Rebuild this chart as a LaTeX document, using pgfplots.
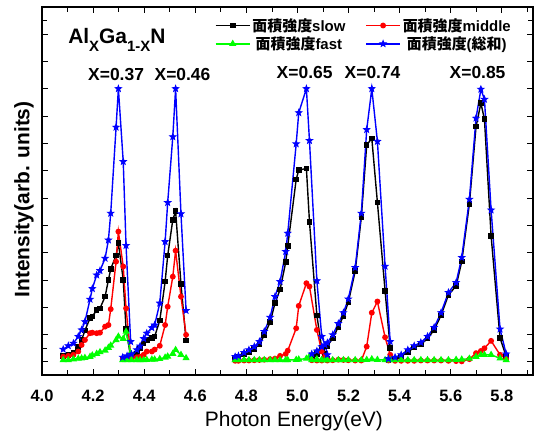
\documentclass[border=0pt]{standalone}
\usepackage{fontspec}
\setmainfont{Liberation Sans}
\newfontfamily\cjk{Noto Sans CJK JP}
\usepackage{pgfplots}
\pgfplotsset{compat=1.18}
\newcommand\mk{{\cjk\bfseries 面積強度}}
\pgfdeclareplotmark{fstar}{%
  \pgfpathmoveto{\pgfpointpolar{90}{\pgfplotmarksize}}%
  \pgfpathlineto{\pgfpointpolar{126}{0.42\pgfplotmarksize}}%
  \pgfpathlineto{\pgfpointpolar{162}{\pgfplotmarksize}}%
  \pgfpathlineto{\pgfpointpolar{198}{0.42\pgfplotmarksize}}%
  \pgfpathlineto{\pgfpointpolar{234}{\pgfplotmarksize}}%
  \pgfpathlineto{\pgfpointpolar{270}{0.42\pgfplotmarksize}}%
  \pgfpathlineto{\pgfpointpolar{306}{\pgfplotmarksize}}%
  \pgfpathlineto{\pgfpointpolar{342}{0.42\pgfplotmarksize}}%
  \pgfpathlineto{\pgfpointpolar{18}{\pgfplotmarksize}}%
  \pgfpathlineto{\pgfpointpolar{54}{0.42\pgfplotmarksize}}%
  \pgfpathclose
  \pgfusepathqfillstroke}
\begin{document}
\begin{tikzpicture}
\begin{axis}[
  scale only axis, width=491bp, height=368bp,
  at={(0,0)}, anchor=south west,
  xmin=4.0, xmax=5.922, ymin=-0.48, ymax=12.99,
  axis line style={line width=1.1bp},
  tick align=inside,
  tick style={line width=0.8bp, black},
  major tick length=6bp, minor tick length=5bp,
  xtick={4.0,4.2,4.4,4.6,4.8,5.0,5.2,5.4,5.6,5.8},
  minor xtick={4.1,4.3,4.5,4.7,4.9,5.1,5.3,5.5,5.7,5.9},
  ytick={0,1,2,3,4,5,6,7,8,9,10,11,12},
  minor ytick={0.5,12.5},
  yticklabels={},
  xticklabel style={yshift=-12bp, font=\bfseries\fontsize{16.5}{16.5}\selectfont, /pgf/number format/.cd, fixed, fixed zerofill, precision=1, assume math mode=true},
  xlabel={Photon Energy(eV)},
  ylabel={\bfseries Intensity(arb. units)},
  every axis x label/.style={at={(axis description cs:0.513,-0.1413)}, anchor=base, font=\fontsize{21}{21}\selectfont},
  every axis y label/.style={at={(axis description cs:-0.0367,0.477)}, anchor=center, rotate=90, font=\fontsize{21}{21}\selectfont},
  unbounded coords=jump,
  legend columns=2,
  legend style={at={(axis description cs:0.352,0.975)}, anchor=north west, draw=none, fill=none,
    font=\bfseries\fontsize{15}{17}\selectfont, inner sep=0pt,
    /tikz/every even column/.append style={column sep=18bp}},
  legend image code/.code={\draw[mark repeat=2,mark phase=2] plot coordinates {(0bp,0bp)(17bp,0bp)(34bp,0bp)};},
]
\addplot[black, line width=1.4bp, mark=square*, mark size=2.1bp, mark options={solid}] coordinates {
(4.083,0.22)(4.103,0.26)(4.123,0.34)(4.142,0.54)(4.155,0.80)(4.168,1.15)(4.188,1.60)(4.197,1.66)(4.214,1.90)(4.227,1.96)(4.247,2.39)(4.260,3.00)(4.269,3.40)(4.290,3.90)(4.299,4.35)(4.318,3.00)(4.329,1.20)(4.347,0.17)
(4.35,nan)
(4.316,0.12)(4.333,0.15)(4.350,0.20)(4.371,0.29)(4.384,0.50)(4.398,0.68)(4.410,0.80)(4.430,0.87)(4.441,0.93)(4.461,1.51)(4.482,2.94)(4.492,3.89)(4.512,5.20)(4.523,5.52)(4.544,2.85)(4.564,0.78)
(4.6,nan)
(4.756,0.14)(4.769,0.17)(4.791,0.28)(4.810,0.37)(4.831,0.48)(4.851,0.64)(4.870,0.98)(4.893,1.45)(4.912,2.15)(4.932,2.65)(4.954,3.65)(4.962,4.25)(4.995,6.68)(5.005,7.02)(5.035,7.08)(5.047,5.13)(5.076,1.70)(5.095,0.50)(5.108,0.30)(5.117,0.10)
(5.12,nan)
(5.056,0.18)(5.076,0.28)(5.095,0.42)(5.117,0.58)(5.138,0.86)(5.160,1.28)(5.180,1.68)(5.199,2.18)(5.226,3.32)(5.250,5.30)(5.271,7.94)(5.291,8.18)(5.313,5.83)(5.343,2.60)(5.363,0.50)
(5.365,nan)
(5.356,0.06)(5.382,0.12)(5.406,0.20)(5.432,0.37)(5.457,0.52)(5.483,0.64)(5.509,0.85)(5.535,1.17)(5.562,1.70)(5.591,2.45)(5.621,2.78)(5.643,3.67)(5.673,5.78)(5.699,8.61)(5.718,9.47)(5.732,8.88)(5.758,4.61)(5.793,0.87)(5.817,0.20)
};
\addlegendentry{\mk slow}
\addplot[red, line width=1.4bp, mark=*, mark size=2.2bp, mark options={solid}] coordinates {
(4.083,0.19)(4.103,0.22)(4.123,0.26)(4.142,0.38)(4.155,0.62)(4.168,0.80)(4.188,1.05)(4.197,1.07)(4.214,1.05)(4.227,1.07)(4.247,1.29)(4.260,1.35)(4.269,1.93)(4.290,3.67)(4.299,4.77)(4.318,3.49)(4.329,1.96)(4.347,0.26)
(4.35,nan)
(4.316,0.10)(4.333,0.12)(4.350,0.15)(4.371,0.17)(4.384,0.19)(4.398,0.26)(4.410,0.38)(4.430,0.38)(4.441,0.45)(4.461,0.59)(4.482,1.35)(4.492,2.02)(4.512,3.12)(4.523,4.07)(4.544,2.39)(4.564,0.99)
(4.6,nan)
(4.756,0.04)(4.769,0.04)(4.791,0.05)(4.810,0.05)(4.831,0.06)(4.851,0.07)(4.870,0.08)(4.893,0.10)(4.912,0.12)(4.932,0.22)(4.954,0.29)(4.962,0.41)(4.995,1.23)(5.005,2.05)(5.035,2.88)(5.047,2.76)(5.076,1.17)(5.095,0.38)(5.108,0.20)(5.117,0.08)
(5.12,nan)
(5.056,0.06)(5.076,0.05)(5.095,0.05)(5.117,0.05)(5.138,0.06)(5.160,0.08)(5.180,0.07)(5.199,0.06)(5.226,0.05)(5.250,0.05)(5.271,0.56)(5.291,1.80)(5.313,2.21)(5.343,0.90)(5.363,0.26)
(5.365,nan)
(5.356,0.05)(5.382,0.04)(5.406,0.04)(5.432,0.04)(5.457,0.04)(5.483,0.05)(5.509,0.05)(5.535,0.05)(5.562,0.05)(5.591,0.04)(5.621,0.03)(5.643,0.02)(5.673,0.10)(5.699,0.32)(5.718,0.40)(5.732,0.50)(5.758,0.77)(5.793,0.26)(5.817,0.11)
};
\addlegendentry{\mk middle}
\addplot[green, line width=1.4bp, mark=triangle*, mark size=2.8bp, mark options={solid}] coordinates {
(4.083,0.07)(4.103,0.07)(4.123,0.10)(4.142,0.12)(4.155,0.13)(4.168,0.15)(4.188,0.19)(4.197,0.24)(4.214,0.30)(4.227,0.36)(4.247,0.42)(4.260,0.52)(4.269,0.60)(4.290,0.80)(4.299,0.93)(4.318,0.85)(4.329,1.11)(4.347,0.32)
(4.35,nan)
(4.316,0.07)(4.333,0.07)(4.350,0.07)(4.371,0.07)(4.384,0.07)(4.398,0.07)(4.410,0.08)(4.430,0.09)(4.441,0.09)(4.461,0.11)(4.482,0.16)(4.492,0.20)(4.512,0.30)(4.523,0.44)(4.544,0.26)(4.564,0.14)
(4.6,nan)
(4.756,0.07)(4.769,0.07)(4.791,0.07)(4.810,0.07)(4.831,0.07)(4.851,0.07)(4.870,0.07)(4.893,0.07)(4.912,0.07)(4.932,0.07)(4.954,0.07)(4.962,0.07)(4.995,0.08)(5.005,0.09)(5.035,0.12)(5.047,0.20)(5.076,0.10)(5.095,0.07)(5.108,0.07)(5.117,0.07)
(5.12,nan)
(5.056,0.07)(5.076,0.07)(5.095,0.07)(5.117,0.07)(5.138,0.07)(5.160,0.07)(5.180,0.07)(5.199,0.07)(5.226,0.07)(5.250,0.07)(5.271,0.08)(5.291,0.10)(5.313,0.08)(5.343,0.07)(5.363,0.07)
(5.365,nan)
(5.356,0.07)(5.382,0.07)(5.406,0.07)(5.432,0.07)(5.457,0.07)(5.483,0.07)(5.509,0.07)(5.535,0.07)(5.562,0.07)(5.591,0.07)(5.621,0.08)(5.643,0.09)(5.673,0.12)(5.699,0.19)(5.718,0.26)(5.732,0.26)(5.758,0.26)(5.793,0.13)(5.817,0.07)
};
\addlegendentry{\mk fast}
\addplot[blue, line width=1.4bp, mark=fstar, mark size=3.3bp, mark options={solid, line width=0.8bp}] coordinates {
(4.083,0.46)(4.103,0.59)(4.123,0.68)(4.142,0.93)(4.155,1.17)(4.168,1.47)(4.188,2.29)(4.197,2.68)(4.214,3.18)(4.227,3.34)(4.247,3.79)(4.260,4.46)(4.269,5.44)(4.290,8.59)(4.299,10.0)(4.318,7.33)(4.329,4.26)(4.347,0.74)
(4.35,nan)
(4.316,0.17)(4.333,0.22)(4.350,0.28)(4.371,0.44)(4.384,0.58)(4.398,0.85)(4.410,1.05)(4.430,1.25)(4.441,1.35)(4.461,2.15)(4.482,4.40)(4.492,5.83)(4.512,8.24)(4.523,10.0)(4.544,5.42)(4.564,1.88)
(4.6,nan)
(4.756,0.19)(4.769,0.22)(4.791,0.34)(4.810,0.44)(4.831,0.56)(4.851,0.74)(4.870,1.11)(4.893,1.63)(4.912,2.39)(4.932,2.94)(4.954,4.04)(4.962,4.71)(4.995,7.98)(5.005,9.12)(5.035,10.0)(5.047,8.10)(5.076,2.97)(5.095,0.93)(5.108,0.62)(5.117,0.26)
(5.12,nan)
(5.056,0.29)(5.076,0.40)(5.095,0.55)(5.117,0.70)(5.138,0.99)(5.160,1.40)(5.180,1.80)(5.199,2.30)(5.226,3.45)(5.250,5.44)(5.271,8.50)(5.291,10.0)(5.313,8.07)(5.343,3.50)(5.363,0.74)
(5.365,nan)
(5.356,0.11)(5.382,0.17)(5.406,0.26)(5.432,0.44)(5.457,0.59)(5.483,0.71)(5.509,0.93)(5.535,1.26)(5.562,1.80)(5.591,2.54)(5.621,2.90)(5.643,3.82)(5.673,5.95)(5.699,8.92)(5.718,9.98)(5.732,9.61)(5.758,5.56)(5.793,1.20)(5.817,0.29)
};
\addlegendentry{\mk({\cjk\bfseries 総和})}
\node[anchor=base west, font=\bfseries\fontsize{21}{21}\selectfont, inner sep=0pt] at (axis cs:4.102,11.67) {Al\raisebox{-8bp}{\fontsize{15}{15}\selectfont X}Ga\raisebox{-8bp}{\fontsize{15}{15}\selectfont 1-X}N};
\begin{scope}[every node/.style={font=\bfseries\fontsize{17.5}{17.5}\selectfont, inner sep=0pt, anchor=center}]
\node at (axis cs:4.290,10.52) {X=0.37};
\node at (axis cs:4.550,10.52) {X=0.46};
\node at (axis cs:5.028,10.60) {X=0.65};
\node at (axis cs:5.294,10.60) {X=0.74};
\node at (axis cs:5.705,10.60) {X=0.85};
\end{scope}
\end{axis}
\pgfresetboundingbox
\path[use as bounding box] (-42bp,-57bp) rectangle (493bp,375bp);
\end{tikzpicture}
\end{document}
